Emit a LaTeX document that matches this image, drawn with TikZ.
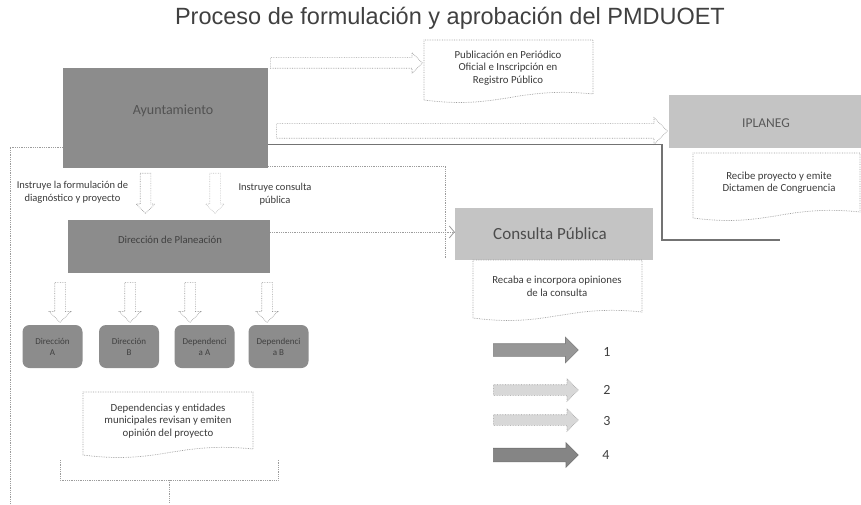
\documentclass[tikz,border=0pt]{standalone}
\usepackage{fontspec}
\setmainfont{Carlito}
\newfontfamily\titlefont{Liberation Sans}
\usetikzlibrary{shapes.arrows,arrows.meta}
\definecolor{boxdark}{HTML}{8C8C8C}
\definecolor{boxlight}{HTML}{C4C4C4}
\definecolor{lgray}{HTML}{9C9C9C}
\definecolor{tgray}{HTML}{3A3A3A}
\definecolor{arrdark}{HTML}{858585}
\definecolor{arrmid}{HTML}{979797}
\definecolor{arrlight}{HTML}{D8D8D8}
\newcommand\docshape[4]{%
  \draw[docline] ({#1},{#4}) -- ({#1},{#2}) -- ({#3},{#2}) -- ({#3},{#4-6})
    .. controls ({#3-0.45*(#3-#1)},{#4-14}) and ({#1+0.45*(#3-#1)},{#4+10}) .. ({#1},{#4});}
\begin{document}
\begin{tikzpicture}[x=1pt,y=-1pt,
  darkbox/.style={fill=boxdark, inner sep=0pt},
  lightbox/.style={fill=boxlight, inner sep=0pt},
  chip/.style={fill=boxdark, rounded corners=7pt, minimum width=60pt, minimum height=43pt,
    inner sep=0pt, align=center, font=\fontsize{9}{11}\selectfont, text=black!75},
  doctext/.style={align=center, font=\fontsize{10.8}{12.6}\selectfont, text=tgray},
  lbl/.style={align=center, font=\fontsize{10.5}{13}\selectfont, text=tgray},
  docline/.style={draw=lgray, densely dotted, line width=0.7pt},
  dotline/.style={draw=lgray, densely dotted, line width=0.8pt},
  darkline/.style={draw=black!55, line width=1.4pt},
  outarrow/.style={single arrow, anchor=tail, draw=lgray, densely dotted,
    fill=white, line width=0.7pt},
  legarrow/.style={single arrow, anchor=tail, line width=0.6pt},
  legnum/.style={font=\fontsize{14}{16}\selectfont, text=black!75}
]
\useasboundingbox (0,0) rectangle (861,505);

% title
\node[font=\titlefont\fontsize{23.5}{26}\selectfont, text=black!75] (title) at (450,18)
  {Proceso de formulación y aprobación del PMDUOET};

% main boxes
\node[darkbox, minimum width=205pt, minimum height=100pt] (ayu) at (165.5,118) {};
\node[font=\fontsize{14}{16}\selectfont, text=black!68] (ayut) at (173,111) {Ayuntamiento};

\node[darkbox, minimum width=202pt, minimum height=53pt] (dir) at (169,246.5) {};
\node[font=\fontsize{10.7}{12}\selectfont, text=black!75] (dirt) at (170,240) {Dirección de Planeación};

\node[chip] (c1) at (52.5,346.5) {Dirección\\A};
\node[chip] (c2) at (129,346.5) {Dirección\\B};
\node[chip] (c3) at (204.5,346.5) {Dependenci\\a A};
\node[chip] (c4) at (278.5,346.5) {Dependenci\\a B};

\node[lightbox, minimum width=193pt, minimum height=53pt] (ipl) at (765.5,121.5) {};
\node[font=\fontsize{13.5}{15}\selectfont, text=black!65] (iplt) at (766,123) {IPLANEG};

\node[lightbox, minimum width=198pt, minimum height=52pt] (con) at (554,234) {};
\node[font=\fontsize{17}{19}\selectfont, text=black!70] (cont) at (550,234) {Consulta Pública};

% document shapes
\node[doctext] (pub) at (508,68) {Publicación en Periódico\\Oficial e Inscripción en\\Registro Público};
\docshape{424}{40}{593}{100}
\node[doctext] (rec) at (779,182.5) {Recibe proyecto y emite\\Dictamen de Congruencia};
\docshape{693}{153}{860}{218}
\node[doctext] (rcb) at (557,286.5) {Recaba e incorpora opiniones\\de la consulta};
\docshape{473}{260}{642}{318}
\node[doctext] (dep) at (168,421) {Dependencias y entidades\\municipales revisan y emiten\\opinión del proyecto};
\docshape{83}{392}{253}{455}

% labels
\node[lbl] (l1) at (72.5,192.5) {Instruye la formulación de\\diagnóstico y proyecto};
\node[lbl] (l2) at (275,194.5) {Instruye consulta\\pública};

% block arrows (inner sep = half shaft width)
\node[outarrow, inner sep=5pt, minimum height=152pt, single arrow head extend=5pt] (aPub) at (270,63) {};
\node[outarrow, inner sep=7pt, minimum height=391pt, single arrow head extend=6pt] (aIpl) at (276,131) {};
\node[outarrow, shape border rotate=270, inner sep=5pt, minimum height=40pt, single arrow head extend=4pt] (d1) at (145.5,173) {};
\node[outarrow, shape border rotate=270, inner sep=5pt, minimum height=40pt, single arrow head extend=4pt, draw=lgray!60] (d2) at (215,173) {};
\foreach \xx/\nm in {60/e1,130/e2,190/e3,267/e4}{
  \node[outarrow, shape border rotate=270, inner sep=5pt, minimum height=40pt, single arrow head extend=5.5pt] (\nm) at (\xx,282) {};
}

% connectors
\draw[darkline] (ayu.east |- 0,144.5) -- (662,144.5) -- (662,240) -- (780,240);
\draw[dotline] (ayu.east |- 0,166) -- (445,166) -- (445,258);
\draw[dotline, -{Straight Barb[length=5pt,width=12pt]}] (dir.east |- 0,232) -- (con.west |- 0,232);
\draw[dotline] (ayu.west |- 0,147) -- (10,147) -- (10,505);
\draw[dotline] (60,460) -- (60,480) -- (278,480) -- (278,460);
\draw[dotline] (169,480) -- (169,502);

% legend
\node[legarrow, fill=arrmid, draw=black!50, inner sep=6pt, minimum height=85pt, single arrow head extend=6.5pt] (g1) at (493,350) {};
\node[legarrow, fill=arrlight, draw=lgray, densely dotted, inner sep=5pt, minimum height=85pt, single arrow head extend=6pt] (g2) at (493,390) {};
\node[legarrow, fill=arrlight, draw=lgray, densely dotted, inner sep=5pt, minimum height=85pt, single arrow head extend=6pt] (g3) at (493,420) {};
\node[legarrow, fill=arrdark, draw=black!55, inner sep=6.5pt, minimum height=85pt, single arrow head extend=5.5pt] (g4) at (493,455) {};
\node[legnum] (n1) at (607,352) {1};
\node[legnum] (n2) at (607,390) {2};
\node[legnum] (n3) at (607,421) {3};
\node[legnum] (n4) at (606,455) {4};
\end{tikzpicture}
\end{document}
